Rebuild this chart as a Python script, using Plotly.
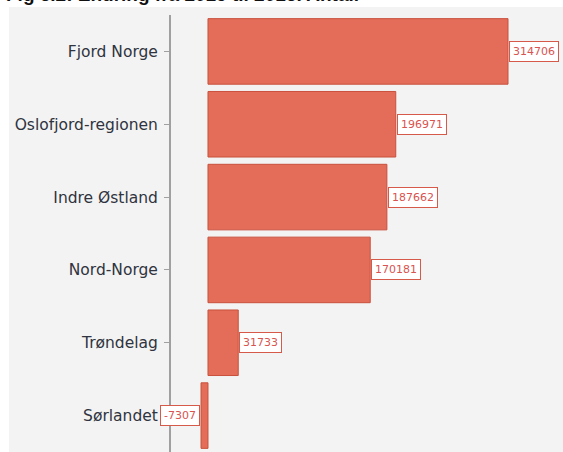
import plotly.graph_objects as go

categories = ["Fjord Norge", "Oslofjord-regionen", "Indre Østland", "Nord-Norge", "Trøndelag", "Sørlandet"]
values = [314706, 196971, 187662, 170181, 31733, -7307]
title_text = "Fig 6.2: Endring fra 2015 til 2016. Antall"

W, H = 563, 452
ML, MR, MT, MB = 171, 0, 15, 0
PW = W - ML - MR
PH = H - MT - MB

fig = go.Figure()
fig.add_trace(go.Bar(
    x=values, y=categories, orientation="h",
    marker=dict(color="#e36d58", line=dict(color="#c9513d", width=1)),
    width=0.9, hoverinfo="skip",
))

annotations = []
for c, v in zip(categories, values):
    annotations.append(dict(
        x=v, y=c, xref="x", yref="y", text=str(v), showarrow=False,
        xanchor="left" if v >= 0 else "right", xshift=1 if v >= 0 else -1,
        font=dict(family="DejaVu Sans", size=11, color="#d9534f"),
        bgcolor="white", bordercolor="#d65a4a", borderwidth=1, borderpad=3,
    ))
annotations.append(dict(
    x=(5 - ML) / PW, y=1 + (MT - 6) / PH, xref="paper", yref="paper",
    text="<b>" + title_text + "</b>", showarrow=False,
    xanchor="left", yanchor="bottom", borderpad=0,
    font=dict(family="Liberation Sans", size=19, color="#111"),
))

fig.update_layout(
    width=W, height=H,
    margin=dict(l=ML, r=MR, t=MT, b=MB, pad=0),
    paper_bgcolor="white", plot_bgcolor="#f3f3f3",
    showlegend=False, bargap=0.1,
    annotations=annotations,
    shapes=[dict(type="rect", xref="paper", yref="paper",
                 x0=(9 - ML) / PW, x1=1.0, y0=-0.1, y1=1 + (MT - 7) / PH,
                 fillcolor="#f3f3f3", line=dict(width=0), layer="below")],
    xaxis=dict(range=[-38800, 372400], visible=False, fixedrange=True),
    yaxis=dict(
        categoryorder="array", categoryarray=categories, autorange="reversed",
        showline=True, linecolor="#a0a0a0", linewidth=2,
        ticks="outside", ticklen=5, tickcolor="#a0a0a0", tickwidth=1,
        ticklabelstandoff=3, showgrid=False, zeroline=False, fixedrange=True,
        tickfont=dict(family="DejaVu Sans", size=15.5, color="#2f3440"),
    ),
)

fig.write_html("out.html", config={"displayModeBar": False},
               post_script="document.body.style.margin='0px';")
